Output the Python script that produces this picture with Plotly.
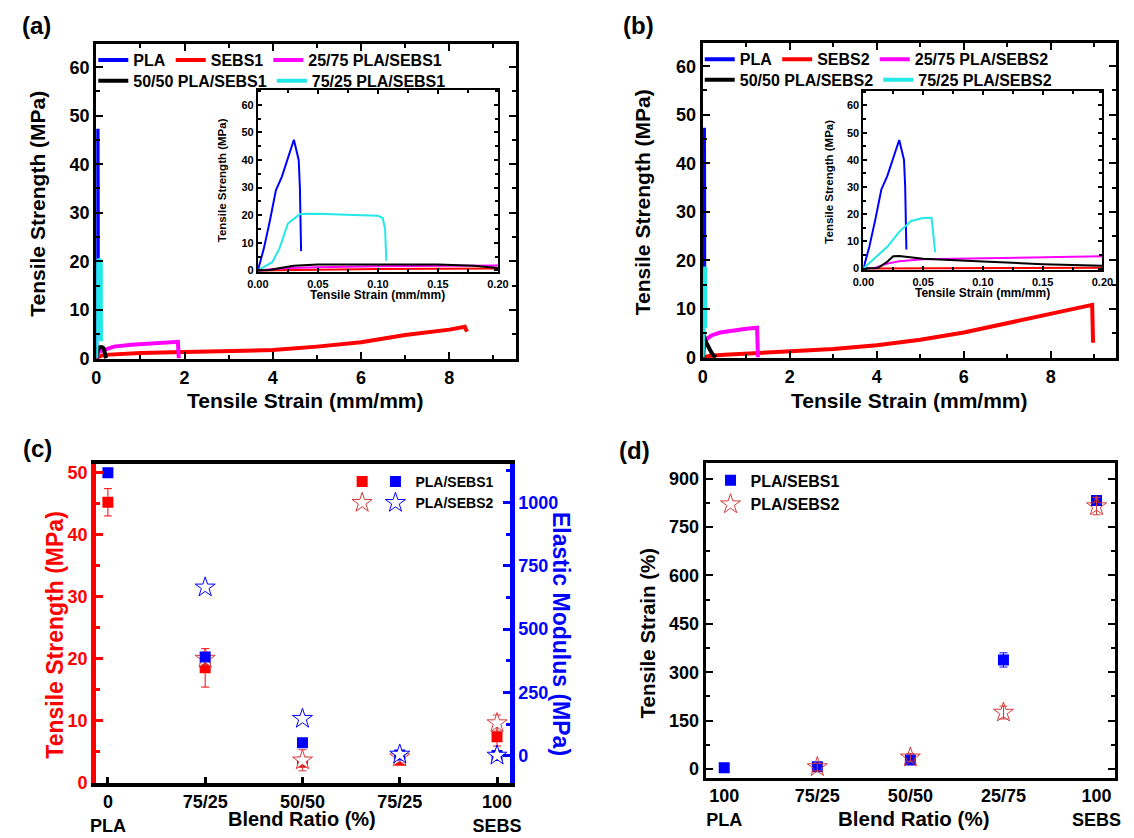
import plotly.graph_objects as go

W, H = 1134, 838
def px(x): return x / W
def py(y): return 1 - y / H

# ---------------- data: panel (a) stress-strain, PLA/SEBS1 ----------------
pla_x = [0, 0.005, 0.01, 0.015, 0.02, 0.025, 0.03, 0.034, 0.035, 0.036]
pla_y = [0, 8, 18, 29, 34, 41, 47.3, 40, 30, 7]

sebs1_x = [0, 0.05, 0.1, 0.2, 0.5, 1, 2, 3, 4, 5, 6, 7, 8, 8.35, 8.4]
sebs1_y = [0, 0.3, 0.5, 0.7, 0.9, 1.1, 1.3, 1.5, 1.7, 2.4, 3.3, 4.8, 5.9, 6.5, 5.5]
b2575_1_x = [0, 0.02, 0.05, 0.1, 0.2, 0.4, 0.8, 1.2, 1.6, 1.85, 1.87]
b2575_1_y = [0, 0.8, 1.2, 1.5, 1.8, 2.4, 2.8, 3.1, 3.3, 3.4, 0]
b5050_1_x = [0, 0.01, 0.02, 0.03, 0.05, 0.1, 0.15, 0.18, 0.2, 0.22]
b5050_1_y = [0, 0.2, 1.0, 1.7, 2.2, 2.3, 2.2, 1.7, 0.8, 0]
b7525_1_x = [0, 0.012, 0.018, 0.025, 0.035, 0.05, 0.08, 0.1, 0.104, 0.106, 0.107]
b7525_1_y = [0, 3, 8, 17, 20.4, 20.5, 20.1, 19.8, 19, 15, 3.5]

# ---------------- data: panel (b) stress-strain, PLA/SEBS2 ----------------
sebs2_x = [0, 0.1, 0.2, 0.5, 1, 2, 3, 4, 5, 6, 7, 8, 8.95, 8.97]
sebs2_y = [0, 0.2, 0.3, 0.5, 0.7, 1.1, 1.7, 2.5, 3.6, 5.1, 7.1, 9.1, 10.8, 3.0]
b2575_2_x = [0, 0.01, 0.02, 0.03, 0.05, 0.1, 0.2, 0.4, 0.7, 1.0, 1.25, 1.27]
b2575_2_y = [0, 0.3, 1.8, 2.7, 3.4, 3.8, 4.5, 5.1, 5.6, 5.9, 6.1, 0]
b5050_2_x = [0, 0.012, 0.02, 0.025, 0.03, 0.05, 0.1, 0.15, 0.2, 0.25, 0.3]
b5050_2_y = [0, 0.2, 2.5, 4.5, 4.6, 3.6, 2.6, 1.6, 1.0, 0.4, 0]
b7525_2_x = [0, 0.01, 0.02, 0.03, 0.04, 0.05, 0.057, 0.058, 0.06]
b7525_2_y = [0, 4, 8, 13.5, 17.5, 18.6, 18.7, 15, 6]

# ---------------- data: panel (c) ----------------
cats = [0, 1, 2, 3, 4]
cat_labels_c = ["0<br>PLA", "75/25", "50/50", "75/25", "100<br>SEBS"]
ts1 = [45.2, 18.5, 3.3, 3.6, 7.4]
ts1_err = [2.2, 3.1, 0.5, 0.5, 1.5]
ts2_cats = [1, 2, 3, 4]
ts2 = [20.0, 3.6, 4.1, 9.6]
ts2_err = [1.0, 1.7, 0.5, 1.3]
em1 = [1117, 390, 52, 4, 2]
em2_cats = [1, 2, 3, 4]
em2 = [665, 147, 6, 2]

# ---------------- data: panel (d) ----------------
cat_labels_d = ["100<br>PLA", "75/25", "50/50", "25/75", "100<br>SEBS"]
el1 = [4, 7, 28, 338, 832]
el1_err = [2, 5, 5, 22, 15]
el2_cats = [1, 2, 3, 4]
el2 = [6, 36, 175, 815]
el2_err = [12, 12, 20, 27]

BLUE = "#0000ff"
RED = "#ff0000"
MAG = "#ff00ff"
CYAN = "#22e8e8"
BLACK = "#000000"
STARRED = "#d43a3a"

FONT = "Arial, Liberation Sans, Helvetica, sans-serif"

fig = go.Figure()

def curves(xa, ya, series, width, legends, show):
    for (name, xs, ys, col), lg in zip(series, legends):
        fig.add_trace(go.Scatter(x=xs, y=ys, mode="lines", name=name,
                                 line=dict(color=col, width=width),
                                 xaxis=xa, yaxis=ya, showlegend=show,
                                 legend=lg))

series_a = [("PLA", pla_x, pla_y, BLUE), ("SEBS1", sebs1_x, sebs1_y, RED),
            ("25/75 PLA/SEBS1", b2575_1_x, b2575_1_y, MAG),
            ("50/50 PLA/SEBS1", b5050_1_x, b5050_1_y, BLACK),
            ("75/25 PLA/SEBS1", b7525_1_x, b7525_1_y, CYAN)]
series_b = [("PLA", pla_x, pla_y, BLUE), ("SEBS2", sebs2_x, sebs2_y, RED),
            ("25/75 PLA/SEBS2", b2575_2_x, b2575_2_y, MAG),
            ("50/50 PLA/SEBS2", b5050_2_x, b5050_2_y, BLACK),
            ("75/25 PLA/SEBS2", b7525_2_x, b7525_2_y, CYAN)]

curves("x", "y", series_a, 4, ["legend", "legend", "legend", "legend2", "legend2"], True)
curves("x2", "y2", series_a, 2, ["legend"] * 5, False)
curves("x3", "y3", series_b, 4, ["legend3", "legend3", "legend3", "legend4", "legend4"], True)
curves("x4", "y4", series_b, 2, ["legend"] * 5, False)

# panel (c)
fig.add_trace(go.Scatter(x=cats, y=ts1, mode="markers", name=" ", xaxis="x5", yaxis="y5",
                         marker=dict(symbol="square", size=11, color=RED),
                         error_y=dict(type="data", array=ts1_err, color=RED, thickness=1, width=4),
                         legend="legend5"))
fig.add_trace(go.Scatter(x=ts2_cats, y=ts2, mode="markers", name=" ", xaxis="x5", yaxis="y5",
                         marker=dict(symbol="star", size=15, color="white",
                                     line=dict(color=STARRED, width=1)),
                         error_y=dict(type="data", array=ts2_err, color=STARRED, thickness=1, width=4),
                         legend="legend5"))
fig.add_trace(go.Scatter(x=cats, y=em1, mode="markers", name="PLA/SEBS1", xaxis="x5", yaxis="y6",
                         marker=dict(symbol="square", size=11, color=BLUE),
                         legend="legend6"))
fig.add_trace(go.Scatter(x=em2_cats, y=em2, mode="markers", name="PLA/SEBS2", xaxis="x5", yaxis="y6",
                         marker=dict(symbol="star", size=15, color="white",
                                     line=dict(color=BLUE, width=1)),
                         legend="legend6"))

# panel (d)
fig.add_trace(go.Scatter(x=cats, y=el1, mode="markers", name="PLA/SEBS1", xaxis="x6", yaxis="y7",
                         marker=dict(symbol="square", size=11, color=BLUE),
                         error_y=dict(type="data", array=el1_err, color=BLUE, thickness=1, width=4),
                         legend="legend7"))
fig.add_trace(go.Scatter(x=el2_cats, y=el2, mode="markers", name="PLA/SEBS2", xaxis="x6", yaxis="y7",
                         marker=dict(symbol="star-open", size=15, color=STARRED,
                                     line=dict(width=1)),
                         error_y=dict(type="data", array=el2_err, color=STARRED, thickness=1, width=4),
                         legend="legend7"))

tickfont_main = dict(family=FONT, size=18, color="black", weight="bold")
tickfont_in = dict(family=FONT, size=11, color="black", weight="bold")

def frame_axis(domain, rng, dtick, minor_dtick, anchor, font, lw=3, tl=7, mirror="allticks", **kw):
    d = dict(domain=domain, range=rng, anchor=anchor, showline=True, linecolor="black",
             linewidth=lw, mirror=mirror, ticks="inside", ticklen=tl, tickwidth=2,
             tickcolor="black", dtick=dtick, tick0=0, showgrid=False, zeroline=False,
             tickfont=font,
             minor=dict(ticks="inside", ticklen=max(3, tl - 3), tickwidth=2,
                        dtick=minor_dtick, tick0=0, tickcolor="black", showgrid=False))
    d.update(kw)
    return d

layout = dict(
    width=W, height=H, margin=dict(l=0, r=0, t=0, b=0),
    paper_bgcolor="white", plot_bgcolor="white",
    font=dict(family=FONT, color="black"),
)

# (a)
layout["xaxis"] = frame_axis([px(87), px(515)], [0, 9.5], 2, 1, "y", tickfont_main)
layout["yaxis"] = frame_axis([py(363), py(44)], [-0.2, 64.7], 10, 5, "x", tickfont_main)
layout["xaxis2"] = frame_axis([px(252), px(497)], [0, 0.2], 0.05, 0.025, "y2", tickfont_in,
                              lw=2, tl=4, tickformat=".2f")
layout["yaxis2"] = frame_axis([py(275), py(90)], [-0.7, 65.4], 10, 5, "x2", tickfont_in, lw=2, tl=4)
# (b)
layout["xaxis3"] = frame_axis([px(706), px(1128)], [0, 9.5], 2, 1, "y3", tickfont_main)
layout["yaxis3"] = frame_axis([py(362), py(43)], [-0.2, 64.7], 10, 5, "x3", tickfont_main)
layout["xaxis4"] = frame_axis([px(870), px(1114)], [0, 0.2], 0.05, 0.025, "y4", tickfont_in,
                              lw=2, tl=4, tickformat=".2f")
layout["yaxis4"] = frame_axis([py(273), py(91)], [-0.7, 65.4], 10, 5, "x4", tickfont_in, lw=2, tl=4)
# (c)
layout["xaxis5"] = dict(domain=[px(87), px(509)], range=[-0.12, 4.13], anchor="y5",
                        showline=True, linecolor="black", linewidth=4, mirror=True,
                        ticks="inside", ticklen=6, tickwidth=3, tickcolor="black",
                        tickvals=cats, ticktext=cat_labels_c, tickfont=tickfont_main,
                        showgrid=False, zeroline=False)
layout["yaxis5"] = dict(domain=[py(792), py(469)], range=[0, 51.4], anchor="x5",
                        showline=True, linecolor=RED, linewidth=5, ticks="inside",
                        ticklen=7, tickwidth=3, tickcolor=RED, dtick=10, tick0=0,
                        tickfont=dict(family=FONT, size=18, color=RED, weight="bold"),
                        minor=dict(ticks="inside", ticklen=4, tickwidth=3, dtick=5, tick0=0,
                                   tickcolor=RED),
                        showgrid=False, zeroline=False)
layout["yaxis6"] = dict(domain=[py(792), py(469)], range=[-105, 1152], overlaying="y5",
                        anchor="x5", side="right", showline=True, linecolor=BLUE, linewidth=5,
                        ticks="inside", ticklen=7, tickwidth=3, tickcolor=BLUE, dtick=250, tick0=0,
                        tickfont=dict(family=FONT, size=18, color=BLUE, weight="bold"),
                        minor=dict(ticks="inside", ticklen=4, tickwidth=3, dtick=125, tick0=0,
                                   tickcolor=BLUE),
                        showgrid=False, zeroline=False)
# (d)
layout["xaxis6"] = dict(domain=[px(709), px(1127)], range=[-0.2, 4.2], anchor="y7",
                        showline=True, linecolor="black", linewidth=3, mirror=True,
                        ticks="", tickvals=cats, ticktext=cat_labels_d, tickfont=tickfont_main,
                        showgrid=False, zeroline=False)
layout["yaxis7"] = frame_axis([py(787), py(468)], [-27, 949], 150, 75, "x6", tickfont_main)

leg_font = dict(family=FONT, size=16, color="black", weight="bold")
def leg(x, y, orient="h", font=leg_font, yanchor="middle"):
    return dict(x=px(x), y=py(y), xanchor="left", yanchor=yanchor, orientation=orient,
                bgcolor="rgba(0,0,0,0)", borderwidth=0, font=font, itemwidth=30,
                tracegroupgap=0)

layout["legend"] = leg(84, 60)
layout["legend2"] = leg(84, 81)
layout["legend3"] = leg(703, 59)
layout["legend4"] = leg(703, 80)
leg_font_c = dict(family=FONT, size=14, color="black", weight="bold")
layout["legend5"] = leg(338, 498, orient="v", font=leg_font_c)
layout["legend6"] = leg(372, 498, orient="v", font=leg_font_c)
layout["legend7"] = leg(714, 498, orient="v", font=leg_font)

ann = []
def text(x, y, s, size, color="black", angle=0):
    ann.append(dict(x=px(x), y=py(y), xref="paper", yref="paper", text=s, showarrow=False,
                    textangle=angle, xanchor="center", yanchor="middle",
                    font=dict(family=FONT, size=size, color=color, weight="bold")))

text(26, 25, "(a)", 24)
text(640, 25, "(b)", 24)
text(27, 453, "(c)", 24)
text(636, 455, "(d)", 24)
text(27, 205, "Tensile Strength (MPa)", 21, angle=-90)
text(301, 405, "Tensile Strain (mm/mm)", 21)
text(644, 204, "Tensile Strength (MPa)", 21, angle=-90)
text(917, 405, "Tensile Strain (mm/mm)", 21)
text(215, 182, "Tensile Strength (MPa)", 11.5, angle=-90)
text(374, 298, "Tensile Strain (mm/mm)", 12)
text(835, 183, "Tensile Strength (MPa)", 11.5, angle=-90)
text(992, 296, "Tensile Strain (mm/mm)", 12)
text(44, 642, "Tensile Strength (MPa)", 23, color=RED, angle=-90)
text(562, 641, "Elastic Modulus (MPa)", 23, color=BLUE, angle=90)
text(297, 829, "Blend Ratio (%)", 20)
text(650, 640, "Tensile Strain (%)", 20.5, angle=-90)
text(921, 828, "Blend Ratio (%)", 20.5)
layout["annotations"] = ann

fig.update_layout(**layout)
fig.write_html("out.html", config={"displayModeBar": False},
               post_script="document.body.style.margin='0px';document.body.style.overflow='hidden';")
